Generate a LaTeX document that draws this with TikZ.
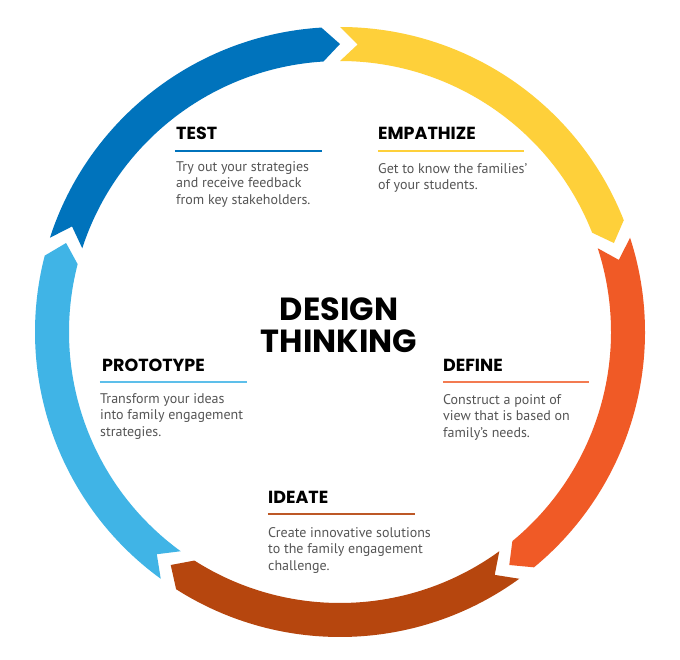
\documentclass[tikz,border=0pt]{standalone}
\usepackage{fontspec}
\setmainfont{PT Sans}
\newfontfamily\headfamily{Poppins}
\definecolor{dblue}{RGB}{0,115,188}
\definecolor{yell}{RGB}{254,208,58}
\definecolor{orng}{RGB}{240,90,38}
\definecolor{brwn}{RGB}{182,70,14}
\definecolor{lblue}{RGB}{64,180,230}
\definecolor{bodygray}{RGB}{85,85,85}
\tikzset{
  phase/.style={font=\headfamily\bfseries\fontsize{17.5}{19}\selectfont, anchor=base west, inner sep=0pt},
  phasetext/.style={font=\fontsize{14}{16.5}\selectfont, text=bodygray, align=left, anchor=base west, inner sep=0pt},
  rule/.style={line width=2pt}
}
\begin{document}
\begin{tikzpicture}[x=1pt,y=1pt]
	\def\Ro{305}
	\def\Ri{271}
	\def\Rm{288}
	\fill[white] (-340,-327) rectangle (340,332);
	\useasboundingbox (-340,-327) rectangle (340,332);
	
	% Ring of arrows (clockwise)
	\foreach \tailA/\col in {90/yell,18/orng,-54/brwn,-126/lblue,162/dblue}{
		\def\headA{\tailA-72}
		\fill[\col] ({\tailA}:\Ro) arc[start angle=\tailA, end angle=\headA+3.5, radius=\Ro]
			-- ({\headA}:\Rm) -- ({\headA+3.5}:\Ri)
			arc[start angle=\headA+3.5, end angle=\tailA, radius=\Ri]
			-- ({\tailA-3.5}:\Rm) -- cycle;
	}
	
	% Title
	\node[font=\headfamily\bfseries\fontsize{32}{32}\selectfont, align=center, anchor=base, inner sep=0pt] (title) at (-1,-20) {DESIGN\\THINKING};
	
	% Test
	\node[phase] (test) at (-164,193) {TEST};
	\draw[rule, dblue] (-165,181) -- (-18,181);
	\node[phasetext] (testtxt) at (-164,128) {Try out your strategies\\and receive feedback\\from key stakeholders.};
	
	% Empathize
	\node[phase] (empathize) at (38,193) {EMPATHIZE};
	\draw[rule, yell] (38,181) -- (184,181);
	\node[phasetext] (empathizetxt) at (38,142.5) {Get to know the families'\\of your students.};
	
	% Define
	\node[phase] (define) at (103,-39) {DEFINE};
	\draw[rule, orng!80] (103,-50) -- (249,-50);
	\node[phasetext] (definetxt) at (103,-105) {Construct a point of\\view that is based on\\family's needs.};
	
	% Ideate
	\node[phase] (ideate) at (-72,-171) {IDEATE};
	\draw[rule, brwn!90] (-72,-182) -- (75,-182);
	\node[phasetext] (ideatetxt) at (-72,-238) {Create innovative solutions\\to the family engagement\\challenge.};
	
	% Prototype
	\node[phase] (prototype) at (-238,-39) {PROTOTYPE};
	\draw[rule, lblue!85] (-240,-50) -- (-93,-50);
	\node[phasetext] (prototypetxt) at (-240,-104) {Transform your ideas\\into family engagement\\strategies.};
\end{tikzpicture}
\end{document}
